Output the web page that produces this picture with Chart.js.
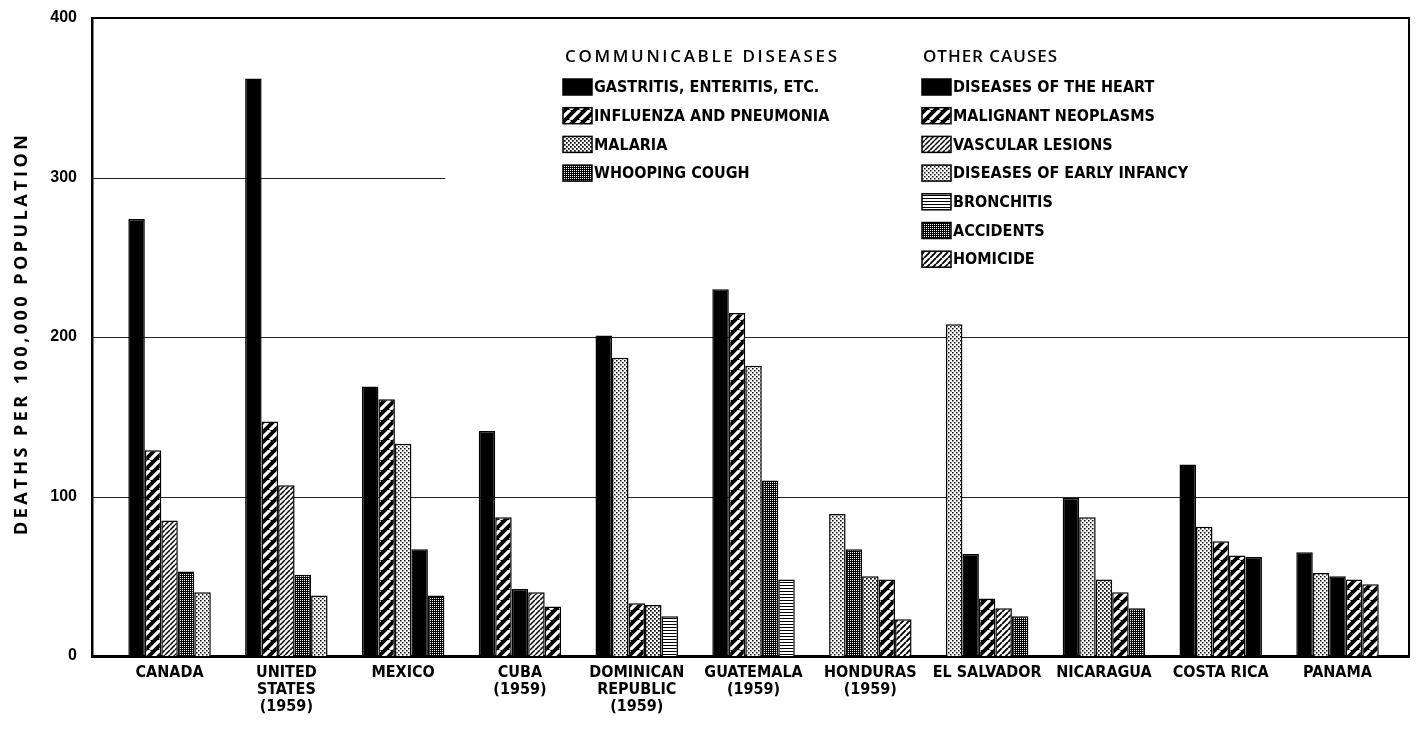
<!DOCTYPE html>
<html>
<head>
<meta charset="utf-8">
<script src="https://cdn.jsdelivr.net/npm/chart.js@4.4.1/dist/chart.umd.min.js"></script>
<style>
  html, body { margin: 0; background: #fff; }
  #wrap { width: 1417px; height: 729px; }
</style>
</head>
<body>
<div id="wrap"><canvas id="chart" width="1417" height="729"></canvas></div>
<script>
/* ==========================================================
   DATA
   ==========================================================*/
const countries = [
  ["CANADA"],
  ["UNITED", "STATES", "(1959)"],
  ["MEXICO"],
  ["CUBA", "(1959)"],
  ["DOMINICAN", "REPUBLIC", "(1959)"],
  ["GUATEMALA", "(1959)"],
  ["HONDURAS", "(1959)"],
  ["EL SALVADOR"],
  ["NICARAGUA"],
  ["COSTA RICA"],
  ["PANAMA"],
];

// five leading causes per country, largest first
const rank1Values = [274, 362, 169, 141, 201, 230, 89, 208, 99, 120, 65];
const rank1Causes = ["heart", "heart", "gastritis", "heart", "gastritis", "gastritis", "infancy", "infancy", "gastritis", "gastritis", "heart"];
const rank2Values = [129, 147, 161, 87, 187, 215, 67, 64, 87, 81, 52];
const rank2Causes = ["neoplasms", "neoplasms", "influenza", "neoplasms", "infancy", "influenza", "whooping", "gastritis", "infancy", "infancy", "infancy"];
const rank3Values = [85, 107, 133, 42, 33, 182, 50, 36, 48, 72, 50];
const rank3Causes = ["vascular", "vascular", "infancy", "gastritis", "influenza", "infancy", "malaria", "influenza", "malaria", "influenza", "gastritis"];
const rank4Values = [53, 51, 67, 40, 32, 110, 48, 30, 40, 63, 48];
const rank4Causes = ["accidents", "accidents", "heart", "vascular", "malaria", "whooping", "influenza", "homicide", "influenza", "neoplasms", "neoplasms"];
const rank5Values = [40, 38, 38, 31, 25, 48, 23, 25, 30, 62, 45];
const rank5Causes = ["infancy", "infancy", "accidents", "influenza", "bronchitis", "bronchitis", "homicide", "whooping", "whooping", "heart", "influenza"];

const yTicks = [0, 100, 200, 300, 400];
const gridValues = [100, 200, 300];
const gridEnds = [null, null, 2.36]; // the 300 line stops short

const communicableKeys = ["gastritis", "influenza", "malaria", "whooping"];
const communicableNames = ["GASTRITIS, ENTERITIS, ETC.", "INFLUENZA AND PNEUMONIA", "MALARIA", "WHOOPING COUGH"];
const otherKeys = ["heart", "neoplasms", "vascular", "infancy", "bronchitis", "accidents", "homicide"];
const otherNames = ["DISEASES OF THE HEART", "MALIGNANT NEOPLASMS", "VASCULAR LESIONS", "DISEASES OF EARLY INFANCY", "BRONCHITIS", "ACCIDENTS", "HOMICIDE"];

/* ==========================================================
   FILL PATTERNS
   ==========================================================*/
function tile(w, h, paint) {
  const c = document.createElement("canvas");
  c.width = w;
  c.height = h;
  const g = c.getContext("2d");
  paint(g, w, h);
  return g.createPattern(c, "repeat");
}

function diagonal(g, w, h, color, lw) {
  g.strokeStyle = color;
  g.lineWidth = lw;
  g.beginPath();
  for (const dx of [-w, 0, w]) {
    g.moveTo(dx, h);
    g.lineTo(dx + w, 0);
  }
  g.stroke();
}

const coarseHatch = tile(10, 10, (g, w, h) => {
  g.fillStyle = "#000";
  g.fillRect(0, 0, w, h);
  diagonal(g, w, h, "#fff", 3.2);
});
const fineHatch = tile(5, 5, (g, w, h) => {
  g.fillStyle = "#fff";
  g.fillRect(0, 0, w, h);
  diagonal(g, w, h, "#000", 1.5);
});
const homicideHatch = tile(6, 6, (g, w, h) => {
  g.fillStyle = "#fff";
  g.fillRect(0, 0, w, h);
  diagonal(g, w, h, "#000", 1.9);
});
const lightDots = tile(4, 4, (g, w, h) => {
  g.fillStyle = "#fff";
  g.fillRect(0, 0, w, h);
  g.fillStyle = "#000";
  g.fillRect(0, 0, 1.5, 1.5);
  g.fillRect(2, 2, 1.5, 1.5);
});
const malariaDots = tile(4, 4, (g, w, h) => {
  g.fillStyle = "#fff";
  g.fillRect(0, 0, w, h);
  g.fillStyle = "#000";
  g.fillRect(0, 0, 1.7, 1.7);
  g.fillRect(2, 2, 1.7, 1.7);
});
const darkDots = tile(2, 2, (g, w, h) => {
  g.fillStyle = "#000";
  g.fillRect(0, 0, w, h);
  g.fillStyle = "#fff";
  g.fillRect(0, 0, 1, 1);
});
const hLines = tile(6, 3, (g, w, h) => {
  g.fillStyle = "#fff";
  g.fillRect(0, 0, w, h);
  g.fillStyle = "#000";
  g.fillRect(0, 0, w, 1);
});

const fills = {
  gastritis: "#000",
  heart: "#000",
  influenza: coarseHatch,
  neoplasms: coarseHatch,
  vascular: fineHatch,
  homicide: homicideHatch,
  malaria: malariaDots,
  infancy: lightDots,
  whooping: darkDots,
  accidents: darkDots,
  bronchitis: hLines,
};

/* ==========================================================
   FONTS
   ==========================================================*/
const NARROW = '"Liberation Sans Narrow", "DejaVu Sans Condensed", "Liberation Sans", sans-serif';
const WIDE = '"Open Sans", "Liberation Sans", sans-serif';

function spacedText(ctx, text, x, y, target) {
  ctx.letterSpacing = "0px";
  const w = ctx.measureText(text).width;
  const sp = (target - w) / (text.length - 1);
  ctx.letterSpacing = sp + "px";
  ctx.fillText(text, x, y);
  ctx.letterSpacing = "0px";
}

/* ==========================================================
   FRAME, GRID, LEGEND, AXIS TITLE
   ==========================================================*/
const decor = {
  id: "decor",
  beforeDatasetsDraw(chart) {
    const { ctx, chartArea: a, scales } = chart;
    ctx.save();
    ctx.strokeStyle = "#222";
    ctx.lineWidth = 1.2;
    gridValues.forEach((v, i) => {
      const y = Math.round(scales.y.getPixelForValue(v)) + 0.5;
      const xEnd = gridEnds[i] == null ? a.right : scales.x.getPixelForValue(gridEnds[i]);
      ctx.beginPath();
      ctx.moveTo(a.left, y);
      ctx.lineTo(xEnd, y);
      ctx.stroke();
    });
    ctx.restore();
  },
  afterDraw(chart) {
    const { ctx, chartArea: a } = chart;
    ctx.save();

    // top and right edges of the frame
    ctx.strokeStyle = "#000";
    ctx.lineWidth = 2;
    ctx.beginPath();
    ctx.moveTo(a.left, a.top);
    ctx.lineTo(a.right, a.top);
    ctx.lineTo(a.right, a.bottom);
    ctx.stroke();

    // y axis title
    ctx.fillStyle = "#000";
    ctx.font = "bold 18px " + WIDE;
    ctx.textAlign = "left";
    ctx.textBaseline = "middle";
    ctx.save();
    ctx.translate(22, 335);
    ctx.rotate(-Math.PI / 2);
    spacedText(ctx, "DEATHS PER 100,000 POPULATION", -200, 0, 400);
    ctx.restore();

    // legend headers
    ctx.font = "600 17px " + WIDE;
    spacedText(ctx, "COMMUNICABLE DISEASES", 565, 57, 272);
    spacedText(ctx, "OTHER CAUSES", 923, 57, 134);

    // legend rows
    const drawColumn = (keys, names, x) => {
      keys.forEach((k, i) => {
        const y = 87 + i * 28.7;
        ctx.fillStyle = fills[k];
        ctx.fillRect(x, y - 8, 29, 16);
        ctx.strokeStyle = "#000";
        ctx.lineWidth = 1.5;
        ctx.strokeRect(x, y - 8, 29, 16);
        ctx.fillStyle = "#000";
        ctx.font = "bold 16px " + NARROW;
        ctx.fillText(names[i], x + 31, y + 1);
      });
    };
    drawColumn(communicableKeys, communicableNames, 563);
    drawColumn(otherKeys, otherNames, 922);

    ctx.restore();
  },
};

/* ==========================================================
   CHART
   ==========================================================*/
const ranks = [
  [rank1Values, rank1Causes],
  [rank2Values, rank2Causes],
  [rank3Values, rank3Causes],
  [rank4Values, rank4Causes],
  [rank5Values, rank5Causes],
];

new Chart(document.getElementById("chart"), {
  type: "bar",
  data: {
    datasets: ranks.map(([vals, causes], k) => ({
      label: "Cause " + (k + 1),
      data: vals.map((v, i) => ({ x: i, y: v })),
      backgroundColor: causes.map((c) => fills[c]),
      borderColor: "#000",
      borderWidth: 1.5,
    })),
  },
  options: {
    responsive: false,
    animation: false,
    layout: { padding: { top: 18, right: 8, left: 0, bottom: 0 } },
    datasets: { bar: { categoryPercentage: 0.706, barPercentage: 1 } },
    plugins: { legend: { display: false }, tooltip: { enabled: false } },
    scales: {
      x: {
        type: "linear",
        offset: false,
        min: -0.664,
        max: 10.612,
        grid: { display: false, drawTicks: false },
        border: { color: "#000", width: 3 },
        afterBuildTicks: (s) => {
          s.ticks = countries.map((_, i) => ({ value: i }));
        },
        afterFit: (s) => {
          s.height = 73;
          s.paddingLeft = 0;
          s.paddingRight = 0;
        },
        ticks: {
          callback: (v) => countries[v],
          autoSkip: false,
          maxRotation: 0,
          minRotation: 0,
          padding: 8,
          color: "#000",
          font: { family: NARROW, size: 16, weight: "bold", lineHeight: "17px" },
        },
      },
      y: {
        min: 0,
        max: 400,
        grid: { display: false, drawTicks: false },
        border: { color: "#000", width: 2.5 },
        afterBuildTicks: (s) => {
          s.ticks = yTicks.map((v) => ({ value: v }));
        },
        afterFit: (s) => {
          s.width = 92;
          s.paddingTop = 0;
          s.paddingBottom = 0;
        },
        ticks: {
          padding: 15,
          color: "#000",
          font: { family: '"Liberation Sans", sans-serif', size: 16, weight: "bold" },
        },
      },
    },
  },
  plugins: [decor],
});
</script>
</body>
</html>
